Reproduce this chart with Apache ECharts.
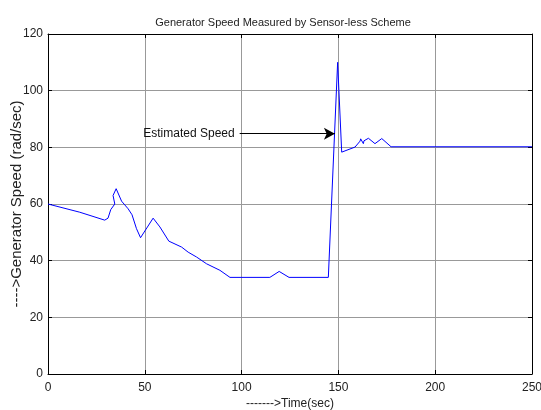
<!DOCTYPE html>
<html>
<head>
<meta charset="utf-8">
<script src="https://cdn.jsdelivr.net/npm/echarts@6/dist/echarts.min.js"></script>
<style>
html,body{margin:0;padding:0;background:#fff;}
#speedChart{width:541px;height:410px;}
</style>
</head>
<body>
<div id="speedChart"></div>
<script>
// values
var timeSec = [0, 16.4, 29.3, 31.0, 32.4, 34.5, 33.6, 35.2, 38.0, 41.4, 43.4, 45.7, 47.8, 54.3, 57.8, 62.4, 69.0, 72.4, 76.7, 81.9, 88.8, 94.0,
	114.6, 119.4, 124.5, 144.8, 149.6, 151.7, 158.6, 161.2, 161.5, 162.9, 163.2, 165.5, 168.9, 172.4, 177.2, 250];
var speed = [60, 57.1, 54.3, 55, 58, 60, 63, 65.4, 61, 58.3, 56.2, 51.3, 48.1, 55, 51.9, 46.9, 44.8, 43, 41.3, 38.9, 36.6, 34.1,
	34.1, 36.2, 34.1, 34.1, 110, 78.3, 80.1, 82.2, 83, 81.3, 82.3, 83.2, 81.3, 83.1, 80.2, 80.2];
var xTicks = [0, 50, 100, 150, 200, 250];
var yTicks = [0, 20, 40, 60, 80, 100, 120];
var arrowFrom = [99, 84.8];
var arrowTo = [148.2, 84.8];

var points = [];
for (var i = 0; i < timeSec.length; i++) {
	points.push([timeSec[i], speed[i]]);
}

var fontName = 'Liberation Sans, Arial, sans-serif';
var chart = echarts.init(document.getElementById('speedChart'));

function mainX(pos, labels) {
	return {
		type: 'value', position: pos, min: xTicks[0], max: xTicks[xTicks.length - 1], interval: 50,
		axisLine: {show: true, onZero: false, lineStyle: {color: '#000', width: 1}},
		axisTick: {show: true, inside: true, length: 4, lineStyle: {color: '#000'}},
		axisLabel: {show: labels, color: '#222', fontFamily: fontName, fontSize: 12, margin: 8},
		splitLine: {show: labels, lineStyle: {color: '#999', width: 1}}
	};
}
function mainY(pos, labels) {
	return {
		type: 'value', position: pos, min: yTicks[0], max: yTicks[yTicks.length - 1], interval: 20,
		axisLine: {show: true, onZero: false, lineStyle: {color: '#000', width: 1}},
		axisTick: {show: true, inside: true, length: 4, lineStyle: {color: '#000'}},
		axisLabel: {show: labels, color: '#222', fontFamily: fontName, fontSize: 12, margin: 5},
		splitLine: {show: labels, lineStyle: {color: '#999', width: 1}}
	};
}

var xBottom = mainX('bottom', true);
xBottom.name = '------->Time(sec)';
xBottom.nameLocation = 'middle';
xBottom.nameGap = 24;
xBottom.nameMoveOverlap = false;
xBottom.nameTextStyle = {color: '#222', fontFamily: fontName, fontSize: 12};
var yLeft = mainY('left', true);
yLeft.name = '---->Generator Speed (rad/sec)';
yLeft.nameLocation = 'middle';
yLeft.nameGap = 24;
yLeft.nameMoveOverlap = false;
yLeft.nameTextStyle = {color: '#222', fontFamily: fontName, fontSize: 15};

chart.setOption({
	animation: false,
	backgroundColor: '#fff',
	title: {
		text: 'Generator Speed Measured by Sensor-less Scheme',
		left: 278, top: 12, textAlign: 'center',
		textStyle: {color: '#222', fontFamily: fontName, fontSize: 11, fontWeight: 'normal'}
	},
	grid: {left: 48, right: 9, top: 34, bottom: 36, containLabel: false, outerBoundsMode: 'none'},
	xAxis: [xBottom, mainX('top', false)],
	yAxis: [yLeft, mainY('right', false)],
	series: [{
		type: 'line',
		data: points,
		showSymbol: false,
		lineStyle: {color: '#0000ff', width: 1},
		markLine: {
			silent: true,
			symbol: ['none', 'arrow'],
			symbolSize: [9, 11],
			lineStyle: {color: '#000', width: 1, type: 'solid'},
			label: {
				show: true, position: 'start', formatter: 'Estimated Speed',
				color: '#111', fontFamily: fontName, fontSize: 12, distance: 5
			},
			data: [[{coord: arrowFrom}, {coord: arrowTo}]]
		}
	}]
});
</script>
</body>
</html>
